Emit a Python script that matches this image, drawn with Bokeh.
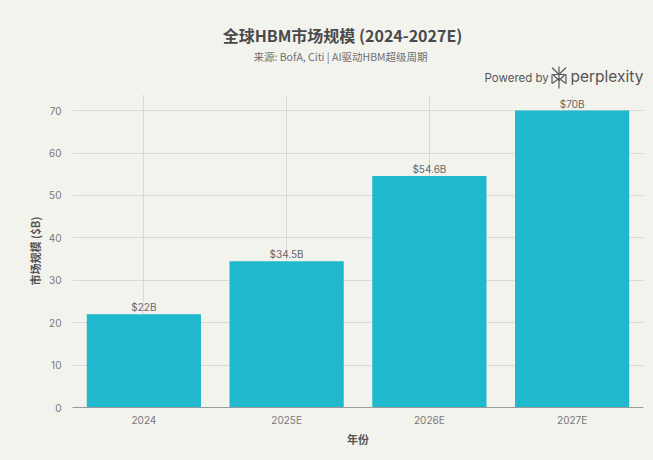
from bokeh.plotting import figure
from bokeh.layouts import column
from bokeh.models import Range1d, FactorRange, ColumnDataSource
from bokeh.core.properties import value
from bokeh.embed import file_html
from bokeh.resources import INLINE

categories = ["2024", "2025E", "2026E", "2027E"]
market_size = [22, 34.5, 54.6, 70]
bar_labels = ["$22B", "$34.5B", "$54.6B", "$70B"]
y_ticks = [0, 10, 20, 30, 40, 50, 60, 70]

title_text = "全球HBM市场规模 (2024-2027E)"
subtitle_text = "来源: BofA, Citi | AI驱动HBM超级周期"
y_label = "市场规模 ($B)"
x_label = "年份"
brand_prefix = "Powered by"
brand_name = "perplexity"

BG = "#f3f3ee"
BAR = "#1fb8cd"
FONT = "Noto Sans CJK SC"
W = 653
HEAD_H = 93
LEFT = 72
RIGHT = 10

# ---------- header (title, subtitle, branding) ----------
# header frame is aligned with the chart frame, so x range maps to page pixels
head = figure(width=W, height=HEAD_H, output_backend="svg", toolbar_location=None,
              x_range=Range1d(LEFT, W - RIGHT), y_range=Range1d(HEAD_H, 0),
              min_border_left=LEFT, min_border_right=RIGHT, min_border_top=0,
              min_border_bottom=0, x_axis_type=None, y_axis_type=None)
head.background_fill_color = BG
head.border_fill_color = BG
head.outline_line_color = None
head.grid.visible = False

head.text(x=[342], y=[34], text=[title_text], text_align="center", text_baseline="middle",
          text_font=value(FONT), text_font_size="16px", text_font_style="bold",
          text_color="#4a4a4a")
head.text(x=[340], y=[56], text=[subtitle_text], text_align="center", text_baseline="middle",
          text_font=value(FONT), text_font_size="10.5px", text_color="#6e6e6e")
head.text(x=[484], y=[77], text=[brand_prefix], text_align="left", text_baseline="middle",
          text_font=value("Inter"), text_font_size="11.5px", text_font_style="normal",
          text_color="#555555")
head.text(x=[570], y=[75.5], text=[brand_name], text_align="left", text_baseline="middle",
          text_font=value("Inter"), text_font_size="15.5px", text_color="#555555")
# logo strokes
lx, ly = 558.5, 77
logo_xs = [[lx, lx], [lx - 7, lx + 7], [lx - 7, lx], [lx + 7, lx], [lx - 7, lx - 7],
           [lx + 7, lx + 7], [lx - 7, lx], [lx + 7, lx], [lx - 6, lx], [lx + 6, lx]]
logo_ys = [[ly - 11, ly + 11], [ly - 3, ly - 3], [ly - 10, ly - 3], [ly - 10, ly - 3],
           [ly - 3, ly + 6], [ly - 3, ly + 6], [ly + 6, ly + 1], [ly + 6, ly + 1],
           [ly - 3, ly + 3], [ly - 3, ly + 3]]
head.multi_line(xs=logo_xs, ys=logo_ys, line_color="#5a5a5a", line_width=1.2)

# ---------- main chart ----------
src = ColumnDataSource(dict(cat=categories, val=market_size, lab=bar_labels))

p = figure(width=W, height=460 - HEAD_H, output_backend="svg", toolbar_location=None,
           x_range=FactorRange(*categories, range_padding=0), y_range=Range1d(0, 73.8),
           min_border_left=LEFT, min_border_right=RIGHT, min_border_top=1,
           min_border_bottom=53)
p.background_fill_color = BG
p.border_fill_color = BG
p.outline_line_color = None

p.vbar(x="cat", top="val", width=0.8, source=src, color=BAR, line_color=None)
p.text(x="cat", y="val", text="lab", source=src, y_offset=-7, text_align="center",
       text_baseline="middle", text_font=value("Inter"), text_font_size="10px",
       text_color="#666666")

p.xgrid.grid_line_color = "#d9d9d5"
p.ygrid.grid_line_color = "#d9d9d5"
p.ygrid.ticker = y_ticks
p.yaxis.ticker = y_ticks

for ax in (p.xaxis, p.yaxis):
    ax.major_tick_line_color = None
    ax.minor_tick_line_color = None
    ax.major_label_text_font = "Inter"
    ax.major_label_text_font_size = "10px"
    ax.major_label_text_color = "#777777"
    ax.axis_label_text_font = FONT
    ax.axis_label_text_font_size = "11px"
    ax.axis_label_text_font_style = "bold"
    ax.axis_label_text_color = "#555555"

p.yaxis.axis_line_color = None
p.xaxis.axis_line_color = "#9a9a9a"
p.yaxis.axis_label = y_label
p.xaxis.axis_label = x_label
p.yaxis.major_label_standoff = 5
p.xaxis.major_label_standoff = 0
p.yaxis.axis_label_standoff = 3
p.xaxis.axis_label_standoff = 2

layout = column(head, p, spacing=0)
layout.styles = {"background-color": BG}
open("out.html", "w").write(file_html(layout, INLINE))
